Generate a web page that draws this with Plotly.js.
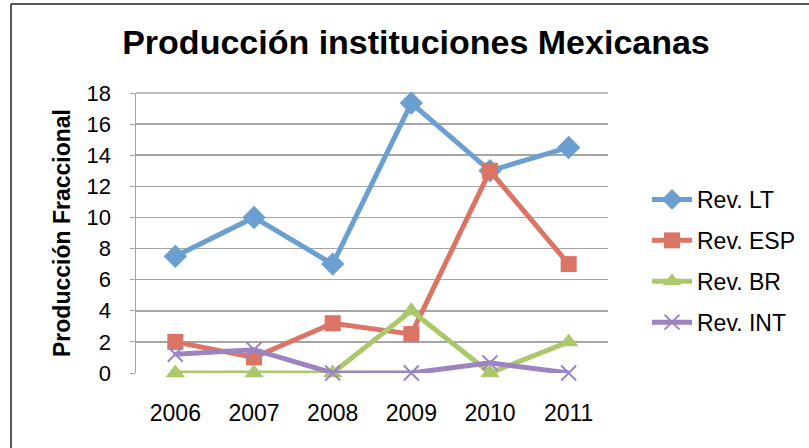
<!DOCTYPE html>
<html>
<head>
<meta charset="utf-8">
<script src="https://cdn.plot.ly/plotly-3.0.1.min.js"></script>
<style>html,body{margin:0;padding:0;background:#fff;}#chart{width:809px;height:448px;}</style>
</head>
<body>
<div id="chart"></div>
<script>
const years = ['2006', '2007', '2008', '2009', '2010', '2011'];
const revLT = [7.5, 10.0, 7.0, 17.35, 13.0, 14.5];
const revESP = [2.0, 1.0, 3.2, 2.5, 13.0, 7.0];
const revBR = [0, 0, 0, 4.0, 0, 2.0];
const revINT = [1.2, 1.5, 0, 0, 0.65, 0];
const seriesNames = ['Rev. LT', 'Rev. ESP', 'Rev. BR', 'Rev. INT'];
const yTicks = [0, 2, 4, 6, 8, 10, 12, 14, 16, 18];

const colors = ['#6a9fcf', '#dc7465', '#abc86c', '#9b84c0'];
const symbols = ['diamond', 'square', 'triangle-up', 'x-thin'];
const sizes = [18, 16, 17, 15];
const allData = [revLT, revESP, revBR, revINT];

const traces = allData.map((vals, i) => ({
  type: 'scatter',
  mode: 'lines+markers',
  x: years,
  y: vals,
  name: seriesNames[i],
  legendgroup: 'g' + i,
  line: {color: colors[i], width: 5},
  marker: {
    symbol: symbols[i],
    size: sizes[i],
    color: colors[i],
    line: {color: colors[i], width: i === 3 ? 2 : 0}
  },
  cliponaxis: false
}));

const W = 809, H = 448, L = 136, R = 608, T = 93, B = 373;
const px = v => (v - L) / (R - L);
const py = v => (B - v) / (B - T);

const layout = {
  width: W, height: H,
  margin: {l: L, r: W - R, t: T, b: H - B, autoexpand: false},
  paper_bgcolor: '#ffffff',
  plot_bgcolor: '#ffffff',
  font: {family: 'Liberation Sans, Arial, sans-serif', color: '#000'},
  title: {
    text: '<b>Producción instituciones Mexicanas</b>',
    font: {size: 34, family: 'Liberation Sans, Arial, sans-serif', color: '#000'},
    x: px(416), xref: 'paper', xanchor: 'center',
    y: 1 - 42 / H, yref: 'container', yanchor: 'middle'
  },
  xaxis: {
    type: 'category',
    range: [-0.5, 5.5],
    showgrid: false,
    showline: false,
    zeroline: false,
    ticks: '',
    tickfont: {size: 23},
    ticklabelstandoff: 24,
    automargin: false
  },
  yaxis: {
    range: [0, 18],
    tickvals: yTicks,
    ticktext: yTicks.map(String),
    showgrid: true,
    gridcolor: '#a6a6a6',
    gridwidth: 1.5,
    showline: true,
    linecolor: '#a6a6a6',
    linewidth: 1.5,
    zeroline: false,
    ticks: 'outside',
    ticklen: 5,
    tickcolor: '#a6a6a6',
    tickfont: {size: 22},
    ticklabelstandoff: 14,
    automargin: false,
    title: {
      text: '<b>Producción Fraccional</b>',
      font: {size: 23},
      standoff: 9
    }
  },
  legend: {
    x: px(647), xanchor: 'left',
    y: py(178), yanchor: 'top',
    font: {size: 23},
    traceorder: 'grouped',
    tracegroupgap: 8,
    itemwidth: 40,
    bgcolor: 'rgba(0,0,0,0)'
  },
  shapes: [
    {type: 'line', xref: 'paper', yref: 'paper', x0: px(11), x1: px(812), y0: py(4), y1: py(4), line: {color: '#222', width: 1.5}},
    {type: 'line', xref: 'paper', yref: 'paper', x0: px(11), x1: px(11), y0: py(4), y1: py(450), line: {color: '#222', width: 1.5}},
    {type: 'line', xref: 'paper', yref: 'paper', x0: 0, x1: 1, y0: 1, y1: 1, line: {color: '#a6a6a6', width: 1.5}, layer: 'below'}
  ],
  showlegend: true
};

Plotly.newPlot('chart', traces, layout, {displayModeBar: false, staticPlot: true});
</script>
</body>
</html>
